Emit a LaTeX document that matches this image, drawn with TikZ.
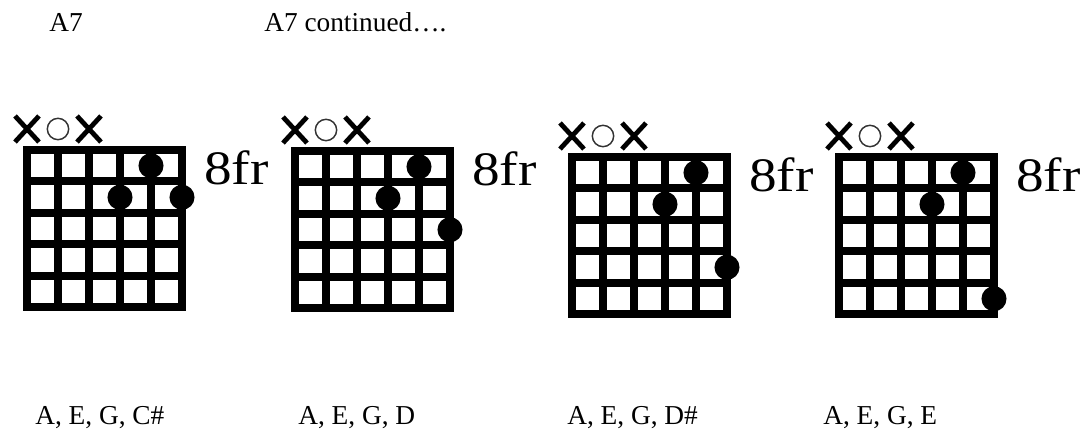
\documentclass[tikz,border=0pt]{standalone}
\usepackage{fontspec}
\usepackage{graphicx}
\setmainfont{Liberation Serif}
\usetikzlibrary{positioning}

\tikzset{
  fretline/.style={line width=6pt, line cap=rect},
  fingerdot/.style={fill=black},
  mutedx/.style={line width=3.6pt},
  openo/.style={line width=1.1pt, draw=black!80},
  chordlabel/.style={inner sep=0pt, anchor=base west, font=\fontsize{20.5}{24}\selectfont},
  fretno/.style={inner sep=0pt, anchor=base west, font=\fontsize{36}{40}\selectfont},
}

\begin{document}
\begin{tikzpicture}[x=0.75pt, y=-0.75pt]
    \def\cw{31}\def\ch{31.5}
    \useasboundingbox (0,0) rectangle (1083,434);
    \node[chordlabel] (title) at (49,32) {A7};
    \node[chordlabel] (titlecont) at (264,32) {A7 continued….};
    \foreach \gx/\gy/\lo/\nx/\notes [count=\n] in
      {27/150/2/35/{A, E, G, C\#}, 295/151/3/298/{A, E, G, D},
       572/157/4/567/{A, E, G, D\#}, 839/157/5/823/{A, E, G, E}} {
      \foreach \i in {0,...,5} {
        \draw[fretline] (\gx+\i*\cw,\gy) -- (\gx+\i*\cw,\gy+5*\ch);
        \draw[fretline] (\gx,\gy+\i*\ch) -- (\gx+5*\cw,\gy+\i*\ch);
      }
      \fill[fingerdot] (\gx+4*\cw,\gy+0.5*\ch) circle[radius=9.4pt];
      \fill[fingerdot] (\gx+3*\cw,\gy+1.5*\ch) circle[radius=9.4pt];
      \fill[fingerdot] (\gx+5*\cw,\gy+\lo*\ch-0.5*\ch) circle[radius=9.4pt];
      \foreach \s in {0,2}
        \draw[mutedx] (\gx+\s*\cw-12,\gy-34) -- (\gx+\s*\cw+12,\gy-8)
                      (\gx+\s*\cw-12,\gy-8) -- (\gx+\s*\cw+12,\gy-34);
      \draw[openo] (\gx+\cw,\gy-21) circle[radius=8pt];
      \node[fretno] (fr\n) at (\gx+177,\gy+35) {\scalebox{1.15}[1]{8fr}};
      \node[chordlabel] (notes\n) at (\nx,425) {\notes};
    }
  \end{tikzpicture}
\end{document}
